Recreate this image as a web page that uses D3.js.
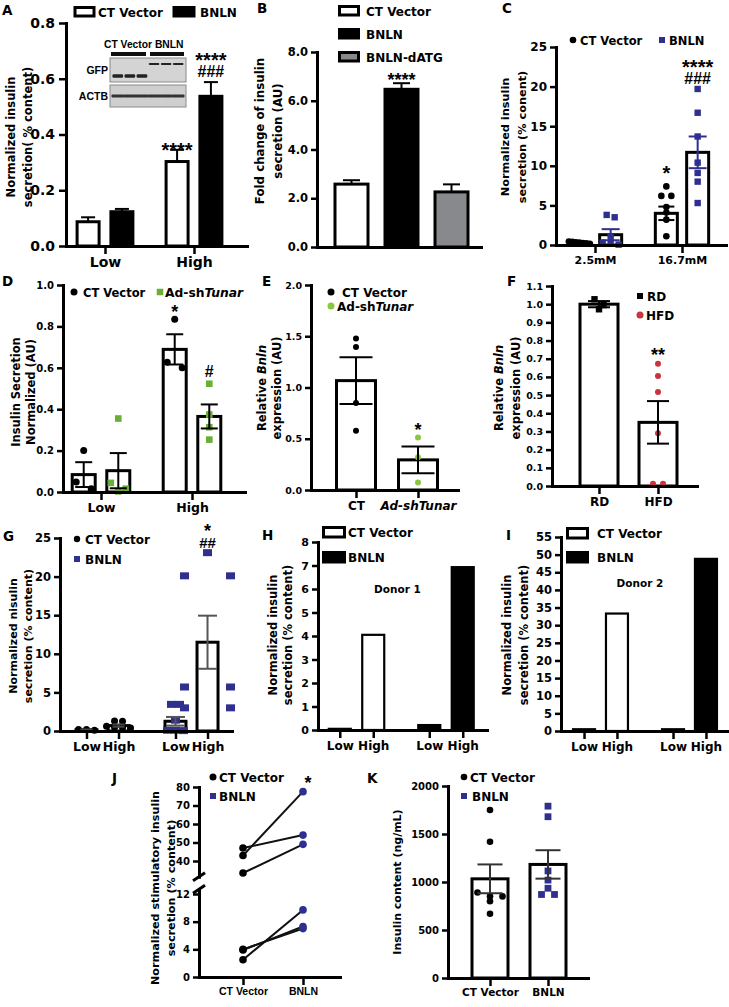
<!DOCTYPE html>
<html><head><meta charset="utf-8">
<script src="https://cdn.jsdelivr.net/npm/d3@7"></script>
<style>body{margin:0;background:#fff}</style>
</head><body><div id="chart"></div>
<script>
// ================= DATA =================
// A
const aGroups=["Low","High"];
const aSeries=["CT Vector","BNLN"];
const aCTMean=[0.087,0.303], aCTSem=[0.016,0.042];
const aBNLNMean=[0.123,0.537], aBNLNSem=[0.010,0.051];
const aTicks=[0,0.2,0.4,0.6,0.8];
const aYLabel=["Normalized insulin","secretion( % content)"];
const aBlotLanes=["CT Vector","BNLN"];
const aBlotRows=["GFP","ACTB"];
// B
const bSeries=["CT Vector","BNLN","BNLN-dATG"];
const bMean=[2.58,6.47,2.26], bSem=[0.16,0.25,0.31];
const bTicks=[0,2,4,6,8];
const bYLabel=["Fold change of insulin","secretion (AU)"];
// C
const cGroups=["2.5mM","16.7mM"];
const cSeries=["CT Vector","BNLN"];
const cCTMean=[0.3,4.0], cCTSem=[0.08,0.85];
const cBNLNMean=[1.3,11.7], cBNLNSem=[0.7,2.0];
const cCTPoints=[[0.45,0.4,0.35,0.3,0.25,0.2,0.15],[7.4,6.2,6.2,4.8,4.1,3.2,1.1]];
const cBNLNPoints=[[3.8,3.5,1.0,0.3,0.15,0.05],[19.7,16.7,13.7,10.4,9.1,8.0,5.3]];
const cTicks=[0,5,10,15,20,25];
const cYLabel=["Normalized insulin","secretion (% conent)"];
// D
const dGroups=["Low","High"];
const dSeries=["CT Vector","Ad-shTunar"];
const dCTMean=[0.084,0.689], dCTSem=[0.06,0.073];
const dShMean=[0.103,0.365], dShSem=[0.085,0.058];
const dCTPoints=[[0.2,0.048,0.016],[0.834,0.627,0.6]];
const dShPoints=[[0.355,0.044,0.016,0.003],[0.523,0.374,0.313,0.253]];
const dTicks=[0,0.2,0.4,0.6,0.8,1.0];
const dYLabel=["Insulin Secretion","Normalized (AU)"];
// E
const eGroups=["CT","Ad-shTunar"];
const eMean=[1.067,0.294], eSem=[0.228,0.13];
const ePoints=[[1.478,1.396,0.848,0.577],[0.512,0.32,0.072]];
const eTicks=[0,0.5,1.0,1.5,2.0];
const eYLabel=[[["Relative ",0],["Bnln",1]],"expression (AU)"];
// F
const fGroups=["RD","HFD"];
const fMean=[1.0,0.35], fSem=[0.017,0.117];
const fPoints=[[1.027,0.972,0.995],[0.673,0.605,0.517,0.29,0.013,0.013]];
const fTicks=[0,0.1,0.2,0.3,0.4,0.5,0.6,0.7,0.8,0.9,1.0,1.1];
const fYLabel=[[["Relative ",0],["Bnln",1]],"expression (AU)"];
// G
const gSeries=["CT Vector","BNLN"];
const gConds=["Low","High"];
const gCTMean=[0.15,0.7], gCTSem=[0.05,0.15];
const gBNLNMean=[1.26,11.5], gBNLNSem=[0.56,3.44];
const gCTPoints=[[0.1,0.2,0.2],[1.3,1.25,0.6,0.5,0.45,0.4]];
const gBNLNPoints=[[3.45,3.45,1.4,0.1,0.1,0.05],[23.1,20.1,20.1,5.7,5.7,3.0,3.0]];
const gTicks=[0,5,10,15,20,25];
const gYLabel=["Normalized nisulin","secretion  (% content)"];
// H
const hSeries=["CT Vector","BNLN"];
const hConds=["Low","High"];
const hCT=[0.05,4.05], hBNLN=[0.21,6.93];
const hTicks=[0,1,2,3,4,5,6,7,8];
const hYLabel=["Normalized insulin","secretion (% content)"];
// I
const iSeries=["CT Vector","BNLN"];
const iConds=["Low","High"];
const iCT=[0.5,33.3], iBNLN=[0.5,48.8];
const iTicks=[0,5,10,15,20,25,30,35,40,45,50,55];
const iYLabel=["Normalized insulin","secretion (% content)"];
// J
const jGroups=["CT Vector","BNLN"];
const jCT=[43,47,33.5,2.5,3.9,4.0];
const jBNLN=[77.5,54,49,9.7,7.3,7.0];
const jTicksUp=[40,50,60,70,80], jTicksLo=[0,4,8,12];
const jYLabel=["Normalized stimulatory insulin","secretion (% content)"];
// K
const kGroups=["CT Vector","BNLN"];
const kMean=[1033,1183], kSem=[150,148];
const kPoints=[[1750,1420,890,850,850,800,670],[1790,1680,1115,1020,935,870,870]];
const kTicks=[0,500,1000,1500,2000];
const kYLabel=["Insulin content (ng/mL)"];

// ================= HELPERS =================
const FF='"DejaVu Sans", sans-serif';
const FL='"Liberation Sans", Arial, sans-serif';
const BLUE="#2f2f8f", GREEN="#6aae35", GREEN2="#8cc63f", RED="#c9353c", GRAY="#88898d";
const svg=d3.select("#chart").append("svg").attr("width",729).attr("height",1007).style("background","#fff");

function catScale(n,x0,x1,c0,c1){const st=(c1-c0)/(n-1);return d3.scaleLinear().domain([(x0-c0)/st,(x1-c0)/st]).range([x0,x1]);}
function text(g,x,y,content,o={}){
  const t=g.append("text").attr("x",x).attr("y",y).attr("font-family",o.ff||FF).attr("font-size",o.fs||12)
    .attr("font-weight",o.fw||"bold").attr("fill",o.fill||"#000").attr("text-anchor",o.anchor||"start");
  if(o.rot) t.attr("transform",`rotate(-90,${x},${y})`);
  if(Array.isArray(content)) content.forEach(p=>{const s=t.append("tspan").text(p[0]); if(p[1]) s.attr("font-style","italic");});
  else {t.text(content); if(o.italic) t.attr("font-style","italic");}
  return t;
}
function ylab(g,xs,yc,lines,fs){lines.forEach((ln,i)=>text(g,xs[i],yc,ln,{fs,anchor:"middle",rot:true}));}
function styleAx(a,fs,ff){
  a.select(".domain").attr("stroke","#000").attr("stroke-width",3).attr("stroke-linecap","square");
  a.selectAll(".tick line").attr("stroke","#000").attr("stroke-width",2.5);
  a.selectAll(".tick text").attr("font-family",ff||FF).attr("font-size",fs).attr("font-weight","bold").attr("fill","#000");
}
function yAxis(g,y,x0,ticks,fmt,fs,ts=6,pad=3){
  const a=g.append("g").attr("transform",`translate(${x0},0)`)
    .call(d3.axisLeft(y).tickValues(ticks).tickFormat(fmt).tickSize(ts).tickSizeOuter(0).tickPadding(pad));
  styleAx(a,fs); return a;
}
function xAxis(g,x,y0,vals,labels,fs,ts=8,ff){
  const a=g.append("g").attr("transform",`translate(0,${y0})`)
    .call(d3.axisBottom(x).tickValues(vals).tickFormat((d,i)=>labels[i]).tickSize(ts).tickSizeOuter(0).tickPadding(3));
  styleAx(a,fs,ff); return a;
}
function bar(g,cx,w,y,v,fill,sw=3){
  g.append("rect").attr("x",cx-w/2).attr("width",w).attr("y",y(v)).attr("height",Math.max(0,y(0)-y(v)))
    .attr("fill",fill).attr("stroke","#000").attr("stroke-width",sw);
}
function errBar(g,cx,cw,y,m,s,o={}){
  const col=o.color||"#000", sw=o.sw||2, down=o.down!==false;
  const yt=y(m+s), yb=down?y(m-s):y(m);
  g.append("line").attr("x1",cx).attr("x2",cx).attr("y1",yt).attr("y2",yb).attr("stroke",col).attr("stroke-width",sw);
  g.append("line").attr("x1",cx-cw/2).attr("x2",cx+cw/2).attr("y1",yt).attr("y2",yt).attr("stroke",col).attr("stroke-width",sw);
  if(down) g.append("line").attr("x1",cx-cw/2).attr("x2",cx+cw/2).attr("y1",yb).attr("y2",yb).attr("stroke",col).attr("stroke-width",sw);
}
// points whose pixel heights lie within cd of each other share a row and are spread symmetrically
function spread(ys,cd,gap){
  const idx=ys.map((v,i)=>i).sort((a,b)=>ys[a]-ys[b]);
  const offs=ys.map(()=>0); let row=[];
  const flush=()=>{row.forEach((k,j)=>offs[k]=(j-(row.length-1)/2)*gap); row=[];};
  idx.forEach(k=>{ if(row.length&&Math.abs(ys[k]-ys[row[0]])>=cd) flush(); row.push(k); });
  flush(); return offs;
}
function points(g,cx,vals,y,o={}){
  const r=o.r||3.5, shape=o.shape||"circle", fill=o.fill||"#000";
  const offs=spread(vals.map(v=>y(v)),o.cd||2*r,o.gap||2*r+1);
  vals.forEach((v,i)=>{
    const px=cx+offs[i], py=y(v);
    if(shape==="circle") g.append("circle").attr("cx",px).attr("cy",py).attr("r",r).attr("fill",fill);
    else {const w=o.w||2*r, h=o.h||2*r; g.append("rect").attr("x",px-w/2).attr("y",py-h/2).attr("width",w).attr("height",h).attr("fill",fill);}
  });
}
// significance marks: one text element, one line per mark
function ann(g,x,lines){
  const t=g.append("text").attr("font-family",FL).attr("font-weight","bold").attr("fill","#000").attr("text-anchor","middle");
  lines.forEach(([s,yc,fs])=>{
    const isHash=s.indexOf("#")>=0;
    t.append("tspan").attr("x",x).attr("y",yc+(isHash?0.35:0.6)*fs).attr("font-size",fs).text(s);
  });
}
function letter(g,x,y,s){text(g,x,y,s,{fs:13.5});}
function box(g,x,y,w,h,fill,sw=2.5){g.append("rect").attr("x",x).attr("y",y).attr("width",w).attr("height",h).attr("fill",fill).attr("stroke","#000").attr("stroke-width",sw);}
function dot(g,x,y,r,fill){g.append("circle").attr("cx",x).attr("cy",y).attr("r",r).attr("fill",fill);}
function sq(g,x,y,s,fill){g.append("rect").attr("x",x-s/2).attr("y",y-s/2).attr("width",s).attr("height",s).attr("fill",fill);}
function italTunar(s){const k=s.indexOf("Tunar");return k<0?s:[[s.slice(0,k),0],["Tunar",1]];}

// ================= PANEL A =================
(function(){
  const g=svg.append("g");
  const y=d3.scaleLinear().domain([0,0.8]).range([246,23]);
  const x=catScale(aGroups.length,66,247,105,194);
  const off=0.19,bw=22;
  aGroups.forEach((c,i)=>{
    bar(g,x(i-off),bw,y,aCTMean[i],"#fff");
    bar(g,x(i+off),bw,y,aBNLNMean[i],"#000");
    errBar(g,x(i-off),14,y,aCTMean[i],aCTSem[i],{down:false});
    errBar(g,x(i+off),14,y,aBNLNMean[i],aBNLNSem[i],{down:false});
  });
  yAxis(g,y,66,aTicks,d3.format(".1f"),14,7,4);
  xAxis(g,x,246,[0,1],aGroups,14,8);
  ylab(g,[15,32],137,aYLabel,11.5);
  ann(g,x(1-off),[["****",145,20]]);
  ann(g,x(1+off),[["****",55,20],["###",71,16]]);
  box(g,75,7.5,19,8.5,"#fff",3);
  text(g,98,16.5,aSeries[0],{fs:12});
  box(g,174,7.5,20,8.5,"#000",3);
  text(g,200,16.5,aSeries[1],{fs:12});
  letter(g,2,15,"A");
  // western blot inset (decorative image)
  const lanes=d3.scaleBand().domain(d3.range(6)).range([111,185]).padding(0.12);
  text(g,104,48,aBlotLanes.join(" "),{ff:FL,fs:10.3});
  g.append("rect").attr("x",111).attr("y",52).attr("width",35).attr("height",4).attr("fill","#111");
  g.append("rect").attr("x",150).attr("y",52).attr("width",34).attr("height",4).attr("fill","#111");
  g.append("rect").attr("x",110).attr("y",58).attr("width",76).attr("height",24).attr("fill","#d4d4d4").attr("stroke","#8a8a8a");
  g.append("rect").attr("x",110).attr("y",85).attr("width",76).attr("height",22).attr("fill","#cfcfcf").attr("stroke","#8a8a8a");
  d3.range(6).forEach(i=>{
    const by=i<3?76:64, bh=i<3?3.5:2.2;
    g.append("rect").attr("x",lanes(i)).attr("y",by-bh/2).attr("width",lanes.bandwidth()).attr("height",bh).attr("rx",1.2).attr("fill","#222");
    g.append("rect").attr("x",lanes(i)-1).attr("y",94.5).attr("width",lanes.bandwidth()+2).attr("height",3).attr("rx",1).attr("fill","#333");
  });
  text(g,108,74,aBlotRows[0],{ff:FL,fs:10.5,anchor:"end"});
  text(g,108,100,aBlotRows[1],{ff:FL,fs:10.5,anchor:"end"});
})();

// ================= PANEL B =================
(function(){
  const g=svg.append("g");
  const y=d3.scaleLinear().domain([0,8]).range([247,52]);
  const x=catScale(bSeries.length,317,481,351.5,451.5);
  const fills=["#fff","#000",GRAY];
  bSeries.forEach((s,i)=>{
    bar(g,x(i),33,y,bMean[i],fills[i]);
    errBar(g,x(i),17,y,bMean[i],bSem[i],{down:false});
  });
  yAxis(g,y,317,bTicks,d3.format(".1f"),11.5,6,3);
  xAxis(g,x,247,[],[],11);
  ylab(g,[264,282],131,bYLabel,11.8);
  ann(g,x(1),[["****",75,18]]);
  const ly=[6.5,29.5,52.5];
  bSeries.forEach((s,i)=>{box(g,339.5,ly[i],19,8.5,fills[i],3);text(g,366,ly[i]+9,s,{fs:12});});
  letter(g,257,13,"B");
})();

// ================= PANEL C =================
(function(){
  const g=svg.append("g");
  const y=d3.scaleLinear().domain([0,25]).range([245,47]);
  const x=catScale(cGroups.length,556,726,595,682);
  const off=0.18,bw=22;
  cGroups.forEach((c,i)=>{
    bar(g,x(i-off),bw,y,cCTMean[i],"#fff");
    bar(g,x(i+off),bw,y,cBNLNMean[i],"#fff");
  });
  cGroups.forEach((c,i)=>{
    points(g,x(i-off),cCTPoints[i],y,{r:3.3,cd:3.5,gap:i===0?3.5:10});
    points(g,x(i+off),cBNLNPoints[i],y,{shape:"rect",r:3.2,fill:BLUE,cd:3,gap:8});
    errBar(g,x(i-off),16,y,cCTMean[i],cCTSem[i],{});
    errBar(g,x(i+off),18,y,cBNLNMean[i],cBNLNSem[i],{color:BLUE});
  });
  yAxis(g,y,556,cTicks,d3.format("d"),12,6,3);
  xAxis(g,x,245,[0,1],cGroups,11,8);
  ylab(g,[509,526],137,cYLabel,11.3);
  ann(g,x(1-off),[["*",168,20]]);
  ann(g,x(1+off),[["****",62,20],["###",78,16]]);
  dot(g,573,40,3.3,"#000"); text(g,580,44.5,cSeries[0],{fs:11.5});
  sq(g,662,40,6,BLUE); text(g,669,44.5,cSeries[1],{fs:11.5});
  letter(g,502,13,"C");
})();

// ================= PANEL D =================
(function(){
  const g=svg.append("g");
  const y=d3.scaleLinear().domain([0,1]).range([492,285]);
  const x=catScale(dGroups.length,63,245,101,192);
  const off=0.19,bw=23;
  dGroups.forEach((c,i)=>{
    bar(g,x(i-off),bw,y,dCTMean[i],"#fff");
    bar(g,x(i+off),bw,y,dShMean[i],"#fff");
  });
  dGroups.forEach((c,i)=>{
    points(g,x(i-off),dCTPoints[i],y,{r:3.5,cd:7,gap:15});
    points(g,x(i+off),dShPoints[i],y,{shape:"rect",r:3.3,fill:GREEN,cd:7,gap:15});
    errBar(g,x(i-off),17,y,dCTMean[i],dCTSem[i],{});
    errBar(g,x(i+off),17,y,dShMean[i],dShSem[i],{});
  });
  yAxis(g,y,63,dTicks,d3.format(".1f"),10,6,3);
  xAxis(g,x,492,[0,1],dGroups,12.5,8);
  ylab(g,[20,35],392,dYLabel,11.5);
  ann(g,x(1-off),[["*",307,18]]);
  ann(g,x(1+off),[["#",371,16]]);
  dot(g,74,292,3.5,"#000"); text(g,83,296.5,dSeries[0],{fs:11.5});
  sq(g,160,292,6.5,GREEN); text(g,165,296.5,italTunar(dSeries[1]),{fs:12.3});
  letter(g,2,286,"D");
})();

// ================= PANEL E =================
(function(){
  const g=svg.append("g");
  const y=d3.scaleLinear().domain([0,2]).range([490,285]);
  const x=catScale(eGroups.length,311,458,356,418);
  const cols=["#000",GREEN2];
  eGroups.forEach((c,i)=>{
    bar(g,x(i),39,y,eMean[i],"#fff");
    points(g,x(i),ePoints[i],y,{r:3,fill:cols[i],cd:6,gap:7});
    errBar(g,x(i),33,y,eMean[i],eSem[i],{});
  });
  yAxis(g,y,311,eTicks,d3.format(".1f"),9.5,6,3);
  const ax=xAxis(g,x,490,[0,1],eGroups,12,8);
  ax.selectAll(".tick text").filter((d,i)=>i===1).attr("font-style","italic");
  ylab(g,[266,281],388,eYLabel,11.5);
  ann(g,x(1),[["*",425,18]]);
  dot(g,331,292,3.5,"#000"); text(g,342,296.5,"CT Vector",{fs:12});
  dot(g,331,306,3.5,GREEN2); text(g,337,311,italTunar(eGroups[1]),{fs:12});
  letter(g,262,286,"E");
})();

// ================= PANEL F =================
(function(){
  const g=svg.append("g");
  const y=d3.scaleLinear().domain([0,1.1]).range([486,286]);
  const x=catScale(fGroups.length,552,697,599,658);
  fGroups.forEach((c,i)=>{
    bar(g,x(i),38,y,fMean[i],"#fff");
    if(i===0) points(g,x(i),fPoints[i],y,{shape:"rect",r:3.2,fill:"#000",cd:6,gap:9});
    else points(g,x(i),fPoints[i],y,{r:3,fill:RED,cd:5,gap:10});
    errBar(g,x(i),22,y,fMean[i],fSem[i],{});
  });
  yAxis(g,y,552,fTicks,d3.format(".1f"),9.5,6,3);
  xAxis(g,x,486,[0,1],fGroups,12,8);
  ylab(g,[503,520],388,fYLabel,11.5);
  ann(g,x(1),[["**",350,18]]);
  sq(g,640,296,6,"#000"); text(g,647,300.5,fGroups[0],{fs:12});
  dot(g,640,315,3.5,RED); text(g,646,319.5,fGroups[1],{fs:12});
  letter(g,507,286,"F");
})();

// ================= PANEL G =================
(function(){
  const g=svg.append("g");
  const y=d3.scaleLinear().domain([0,25]).range([731,538]);
  const x=catScale(gSeries.length,60,232,102.5,191.5);
  const off=0.18,bw=21;
  const pos=[];
  gSeries.forEach((s,si)=>gConds.forEach((c,ci)=>pos.push(si+(ci===0?-off:off))));
  gConds.forEach((c,ci)=>{
    const px=x(0+(ci===0?-off:off)), pb=x(1+(ci===0?-off:off));
    bar(g,px,bw,y,gCTMean[ci],"#fff");
    bar(g,pb,bw,y,gBNLNMean[ci],"#fff");
    points(g,px,gCTPoints[ci],y,{r:3.5,cd:4,gap:8});
    points(g,pb,gBNLNPoints[ci],y,{shape:"rect",w:9,h:7,r:3.5,fill:BLUE,cd:4,gap:ci===1?46:8});
    errBar(g,px,12,y,gCTMean[ci],gCTSem[ci],{color:"#444"});
    errBar(g,pb,19,y,gBNLNMean[ci],gBNLNSem[ci],{color:"#555"});
  });
  yAxis(g,y,60,gTicks,d3.format("d"),11.5,6,3);
  xAxis(g,x,731,pos,["Low","High","Low","High"],12.5,8);
  ylab(g,[17,32],636,gYLabel,11);
  ann(g,x(1+off),[["*",526,18],["##",543,15]]);
  dot(g,77,539,3.2,"#000"); text(g,85,543.5,gSeries[0],{fs:12});
  sq(g,77,559,6,BLUE); text(g,85,563.5,gSeries[1],{fs:12});
  letter(g,3,541,"G");
})();

// ================= PANEL H =================
(function(){
  const g=svg.append("g");
  const y=d3.scaleLinear().domain([0,8]).range([730,542]);
  const x=catScale(hSeries.length,318,487,356.5,446);
  const off=0.187,bw=22;
  hConds.forEach((c,ci)=>{
    const o=ci===0?-off:off;
    bar(g,x(0+o),bw,y,hCT[ci],"#fff",2.2);
    bar(g,x(1+o),bw,y,hBNLN[ci],"#000",2.2);
  });
  yAxis(g,y,318,hTicks,d3.format("d"),11,6,3);
  xAxis(g,x,730,[-off,off,1-off,1+off],["Low","High","Low","High"],12,8);
  ylab(g,[277,292],635,hYLabel,11.5);
  text(g,397.5,593,"Donor 1",{fs:10.5,anchor:"middle"});
  box(g,323.5,527.5,21,9.5,"#fff",3); text(g,348,537,hSeries[0],{fs:12});
  box(g,323.5,552.5,21,9.5,"#000",3); text(g,348,562,hSeries[1],{fs:12});
  letter(g,262,540,"H");
})();

// ================= PANEL I =================
(function(){
  const g=svg.append("g");
  const y=d3.scaleLinear().domain([0,55]).range([731,537]);
  const x=catScale(iSeries.length,561,729,600.5,689.5);
  const off=0.185,bw=22;
  iConds.forEach((c,ci)=>{
    const o=ci===0?-off:off;
    bar(g,x(0+o),bw,y,iCT[ci],"#fff",2.2);
    bar(g,x(1+o),bw,y,iBNLN[ci],"#000",2.2);
  });
  yAxis(g,y,561,iTicks,d3.format("d"),11.5,6,3);
  xAxis(g,x,731,[-off,off,1-off,1+off],["Low","High","Low","High"],12,8);
  ylab(g,[511,528],635,iYLabel,11.5);
  text(g,640,587,"Donor 2",{fs:10.5,anchor:"middle"});
  box(g,567.5,528.5,20,9.5,"#fff",3); text(g,597,538,iSeries[0],{fs:12});
  box(g,567.5,552.5,20,9.5,"#000",3); text(g,597,562,iSeries[1],{fs:12});
  letter(g,506,540,"I");
})();

// ================= PANEL J =================
(function(){
  const g=svg.append("g");
  const yUp=d3.scaleLinear().domain([40,80]).range([861,787]);
  const yLo=d3.scaleLinear().domain([0,12]).range([977,894]);
  const yv=v=>v>=20?yUp(v):yLo(v);
  const x=catScale(jGroups.length,199,340,243,303);
  jCT.forEach((v,i)=>{
    g.append("line").attr("x1",x(0)).attr("y1",yv(v)).attr("x2",x(1)).attr("y2",yv(jBNLN[i])).attr("stroke","#111").attr("stroke-width",2);
  });
  jCT.forEach(v=>dot(g,x(0),yv(v),3.8,"#000"));
  jBNLN.forEach(v=>dot(g,x(1),yv(v),3.8,BLUE));
  const upBreak=31.5, loBreak=12.7;
  yAxis(g,yUp.copy().domain([upBreak,80]).range([yUp(upBreak),yUp(80)]),199,jTicksUp,d3.format("d"),10,6,3);
  yAxis(g,yLo.copy().domain([0,loBreak]).range([yLo(0),yLo(loBreak)]),199,jTicksLo,d3.format("d"),10,6,3);
  [yUp(upBreak),yLo(loBreak)].forEach(by=>{
    g.append("line").attr("x1",193).attr("y1",by+4).attr("x2",205).attr("y2",by-4).attr("stroke","#000").attr("stroke-width",3);
  });
  xAxis(g,x,977,[0,1],jGroups,10.5,8,FL);
  ylab(g,[159,175],888,jYLabel,11.2);
  ann(g,x(1)+5,[["*",778,18]]);
  dot(g,213,777,3.5,"#000"); text(g,219,781.5,"CT Vector",{fs:12});
  sq(g,213,796,6,BLUE); text(g,219,800.5,"BNLN",{fs:12});
  letter(g,112,783,"J");
})();

// ================= PANEL K =================
(function(){
  const g=svg.append("g");
  const y=d3.scaleLinear().domain([0,2000]).range([978,786]);
  const x=catScale(kGroups.length,448,588,490,548);
  kGroups.forEach((c,i)=>{
    bar(g,x(i),36,y,kMean[i],"#fff");
    if(i===0) points(g,x(i),kPoints[i],y,{r:3.3,cd:4,gap:12.5});
    else points(g,x(i),kPoints[i],y,{shape:"rect",r:3.4,fill:BLUE,cd:4,gap:13});
    errBar(g,x(i),25,y,kMean[i],kSem[i],{color:"#333"});
  });
  yAxis(g,y,448,kTicks,d3.format("d"),10,6,3);
  xAxis(g,x,978,[0,1],kGroups,10.5,8);
  ylab(g,[401],882,kYLabel,11);
  dot(g,464,777,3.3,"#000"); text(g,470,781.5,kGroups[0],{fs:12});
  sq(g,464,796,6,BLUE); text(g,472,800.5,kGroups[1],{fs:12});
  letter(g,367,783,"K");
})();
</script>
</body></html>
